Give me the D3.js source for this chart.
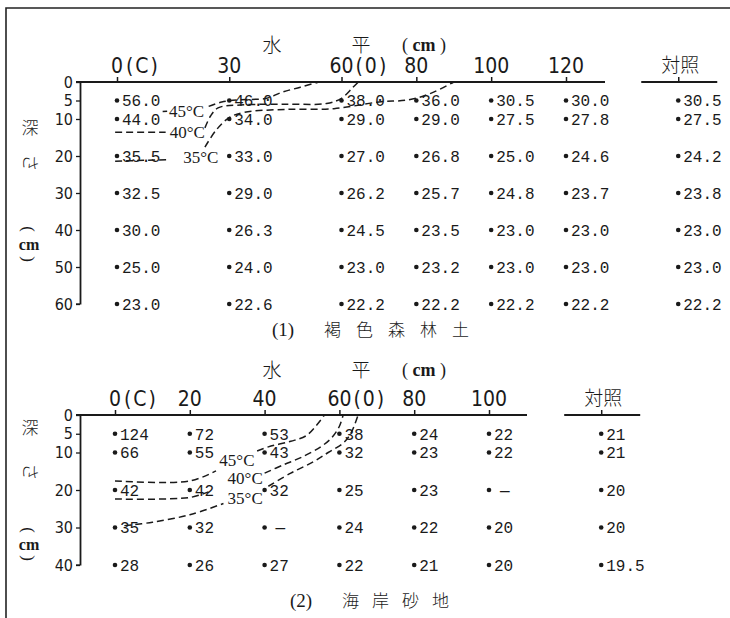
<!DOCTYPE html>
<html>
<head>
<meta charset="utf-8">
<script src="https://cdn.jsdelivr.net/npm/d3@7"></script>
<style>
body { margin: 0; background: #fff; }
svg { display: block; }
text { fill: #1a1a1a; }
</style>
</head>
<body>
<div id="chart"></div>
<script>
// Width and height
var chart_width  = 730;
var chart_height = 618;

// ---- (1) 褐色森林土 ----
var brownPos    = [0, 30, 60, 80, 100, 120];
var brownDepths = [5, 10, 20, 30, 40, 50, 60];
var brownYTicks = [0, 5, 10, 20, 30, 40, 50, 60];
var brownSuffix = {0: "(C)", 60: "(0)"};
// rows = depth, columns = brownPos, last column = 対照
var brownTemps = [
  [56.0, 46.0, 38.0, 36.0, 30.5, 30.0, 30.5],
  [44.0, 34.0, 29.0, 29.0, 27.5, 27.8, 27.5],
  [35.5, 33.0, 27.0, 26.8, 25.0, 24.6, 24.2],
  [32.5, 29.0, 26.2, 25.7, 24.8, 23.7, 23.8],
  [30.0, 26.3, 24.5, 23.5, 23.0, 23.0, 23.0],
  [25.0, 24.0, 23.0, 23.2, 23.0, 23.0, 23.0],
  [23.0, 22.6, 22.2, 22.2, 22.2, 22.2, 22.2]
];
// isotherms [horizontal cm, depth cm], split where the label sits
var brown45Pre  = [[12.2, 8.0], [13.4, 7.9]];
var brown45Post = [[24.5, 6.6], [28, 5.4], [33, 4.8], [40, 4.4], [44, 2.8], [49, 1.4], [54, 0]];
var brown40Pre  = [[-0.5, 13.6], [13, 13.6]];
var brown40Post = [[23.5, 12.4], [25, 9.2], [27, 7.0], [33, 6.2], [45, 6.0], [56, 5.8], [60, 4.4], [63, 1.5], [64.5, 0]];
var brown35Pre  = [[-0.5, 21.4], [13.5, 21.0]];
var brown35Post = [[23.5, 17.6], [26.5, 13], [30, 9.6], [34, 8.2], [45, 7.4], [58, 7.2], [70, 5.4], [78, 4.8], [84, 3], [90, 0]];
var brownIsoLabels = [["45°C", 18.6, 7.8], ["40°C", 18.8, 13.6], ["35°C", 22.4, 20.4]];

// ---- (2) 海岸砂地 ----
var sandPos    = [0, 20, 40, 60, 80, 100];
var sandDepths = [5, 10, 20, 30, 40];
var sandYTicks = [0, 5, 10, 20, 30, 40];
var sandSuffix = {0: "(C)", 60: "(0)"};
var sandTemps = [
  [124, 72, 53, 38, 24, 22, 21],
  [66, 55, 43, 32, 23, 22, 21],
  [42, 42, 32, 25, 23, null, 20],
  [35, 32, null, 24, 22, 20, 20],
  [28, 26, 27, 22, 21, 20, 19.5]
];
var sand45Pre  = [[0, 17.6], [20, 17.6], [27, 14.9]];
var sand45Post = [[38, 9.6], [41, 8.5], [47, 7.0], [51, 5.6], [54, 2.6], [56, 0]];
var sand40Pre  = [[0, 22.4], [20, 22.0], [25, 20.5]];
var sand40Post = [[40, 15.5], [45, 13.3], [50, 11.2], [55, 8.5], [58, 6], [60, 3], [61, 0]];
var sand35Pre  = [[2.5, 29.5], [10, 28.6], [20, 26.6], [29, 23.6]];
var sand35Post = [[41, 19], [47, 15.5], [53, 12.5], [57, 10], [61, 7.5], [63, 5], [65, 0]];
var sandIsoLabels = [["45°C", 32.6, 12.1], ["40°C", 34.8, 16.8], ["35°C", 34.8, 22.2]];

var numFont = "'Liberation Mono', 'DejaVu Sans Mono', monospace";
var axFont  = "'Liberation Sans Narrow', 'DejaVu Sans Condensed', 'Liberation Sans', sans-serif";
var cjkFont = "'Noto Sans CJK JP', 'Noto Sans CJK SC', sans-serif";

// Create SVG
var svg = d3.select("#chart")
  .append("svg")
  .attr("width", chart_width)
  .attr("height", chart_height);

// frame (top and left edges)
svg.append("path")
  .attr("d", "M6,618 V8 H730")
  .attr("fill", "none")
  .attr("stroke", "#222")
  .attr("stroke-width", 1.6);

function drawPanel(p) {
  var g = svg.append("g");
  var x = d3.scaleLinear().domain(p.xDomain).range(p.xRange);
  var y = d3.scaleLinear().domain(p.yDomain).range(p.yRange);
  var y0 = y(0);

  // horizontal axis line + 対照 segment
  g.append("line").attr("x1", 76).attr("x2", p.axisEnd).attr("y1", y0).attr("y2", y0)
    .attr("stroke", "#1a1a1a").attr("stroke-width", 1.8);
  g.append("line").attr("x1", x(p.ctrl) - 37).attr("x2", x(p.ctrl) + 39).attr("y1", y0).attr("y2", y0)
    .attr("stroke", "#1a1a1a").attr("stroke-width", 1.8);

  var xAxis = d3.axisTop(x)
    .tickValues(p.pos.concat([p.ctrl]))
    .tickSize(5).tickSizeOuter(0)
    .tickFormat("");
  var gx = g.append("g").attr("transform", "translate(0," + y0 + ")").call(xAxis);
  gx.select(".domain").remove();
  gx.selectAll("line").attr("stroke", "#1a1a1a").attr("stroke-width", 1.5);

  // tick labels
  g.selectAll(".xlab").data(p.pos).enter().append("text")
    .attr("x", function(d){ return x(d); })
    .attr("y", y0 - 9)
    .attr("text-anchor", "middle")
    .style("font-family", axFont).style("font-size", "21px")
    .text(function(d){ return d; });
  g.selectAll(".xsuf").data(p.pos.filter(function(d){ return p.suffix[d]; })).enter().append("text")
    .attr("x", function(d){ return x(d) + (d >= 10 ? 14 : 9); })
    .attr("y", y0 - 9)
    .style("font-family", axFont).style("font-size", "21px")
    .attr("letter-spacing", 2)
    .text(function(d){ return p.suffix[d]; });
  g.append("text").attr("x", x(p.ctrl) + 2).attr("y", y0 - 10)
    .attr("text-anchor", "middle")
    .style("font-family", cjkFont).style("font-size", "19px").style("font-weight", 300)
    .text("対照");

  // title
  g.append("text").attr("x", 272).attr("y", p.titleY).attr("text-anchor", "middle")
    .style("font-family", cjkFont).style("font-size", "19px").style("font-weight", 300).text("水");
  g.append("text").attr("x", 361).attr("y", p.titleY).attr("text-anchor", "middle")
    .style("font-family", cjkFont).style("font-size", "19px").style("font-weight", 300).text("平");
  g.append("text").attr("x", 402).attr("y", p.titleY - 1)
    .style("font-family", "'Liberation Serif', serif").style("font-size", "18px")
    .html('( <tspan font-weight="bold">cm</tspan> )');

  // vertical axis
  var yAxis = d3.axisLeft(y).tickValues(p.yTicks).tickSize(4).tickSizeOuter(0).tickPadding(3);
  var gy = g.append("g").attr("transform", "translate(80,0)").call(yAxis);
  gy.select(".domain").attr("stroke", "#1a1a1a").attr("stroke-width", 1.8);
  gy.selectAll("line").attr("stroke", "#1a1a1a").attr("stroke-width", 1.3);
  gy.selectAll("text").style("font-family", axFont).style("font-size", "16px").attr("fill", "#1a1a1a");
  gy.append("line").attr("x1", -4).attr("x2", 0).attr("y1", y(p.yDomain[1])).attr("y2", y(p.yDomain[1]))
    .attr("stroke", "#1a1a1a").attr("stroke-width", 1.3);

  // vertical label 深さ(cm)
  var lab = g.append("g").style("font-family", cjkFont).style("font-size", "17px").style("font-weight", 300);
  lab.append("text").attr("x", 30).attr("y", p.vlab[0]).attr("text-anchor", "middle").attr("dy", "0.35em").text("深");
  lab.append("text").attr("text-anchor", "middle").attr("dy", "0.35em")
    .attr("transform", "translate(30," + p.vlab[1] + ") rotate(90)").text("さ");
  lab.append("text").attr("text-anchor", "middle").attr("dy", "0.35em")
    .style("font-family", "'Liberation Serif', serif")
    .attr("transform", "translate(29," + p.vlab[2] + ") rotate(90)").text("(");
  lab.append("text").attr("x", 29).attr("y", p.vlab[3]).attr("text-anchor", "middle").attr("dy", "0.35em")
    .style("font-family", "'Liberation Serif', serif").style("font-weight", "bold").style("font-size", "16px").text("cm");
  lab.append("text").attr("text-anchor", "middle").attr("dy", "0.35em")
    .style("font-family", "'Liberation Serif', serif")
    .attr("transform", "translate(29," + p.vlab[4] + ") rotate(90)").text(")");

  // points
  var cols = p.pos.concat([p.ctrl]);
  var cells = [];
  p.temps.forEach(function(row, i){
    row.forEach(function(v, j){
      cells.push({h: cols[j], d: p.depths[i], v: v});
    });
  });
  g.selectAll(".dot").data(cells).enter().append("circle")
    .attr("cx", function(d){ return x(d.h); })
    .attr("cy", function(d){ return y(d.d); })
    .attr("r", 2.3)
    .attr("fill", "#1a1a1a");
  g.selectAll(".val").data(cells).enter().append("text")
    .attr("x", function(d){ return x(d.h) + (d.v === null ? 11 : 5); })
    .attr("y", function(d){ return y(d.d); })
    .attr("dy", "0.36em")
    .style("font-family", numFont).style("font-size", p.valSize)
    .text(function(d){ return d.v === null ? "—" : p.fmt(d.v); });

  // isotherms
  var line = d3.line()
    .x(function(d){ return x(d[0]); })
    .y(function(d){ return y(d[1]); })
    .curve(d3.curveCatmullRom.alpha(0.5));
  g.selectAll(".iso").data(p.iso).enter().append("path")
    .attr("d", line)
    .attr("fill", "none")
    .attr("stroke", "#1a1a1a")
    .attr("stroke-width", 1.5)
    .attr("stroke-dasharray", "7,4");
  g.selectAll(".isolab").data(p.isoLabels).enter().append("text")
    .attr("x", function(d){ return x(d[1]); })
    .attr("y", function(d){ return y(d[2]); })
    .attr("dy", "0.35em")
    .attr("text-anchor", "middle")
    .style("font-family", "'Liberation Serif', serif").style("font-size", "17px")
    .text(function(d){ return d[0]; });

  // caption
  g.append("text").attr("x", p.capX).attr("y", p.capY)
    .style("font-family", "'Liberation Serif', serif").style("font-size", "19px").text(p.capNum);
  g.append("text").attr("x", p.capX + 52).attr("y", p.capY)
    .attr("letter-spacing", p.capSpace)
    .style("font-family", cjkFont).style("font-size", "17px").style("font-weight", 300)
    .text(p.capText);
}

drawPanel({
  xDomain: [0, 120], xRange: [117, 566],
  yDomain: [0, 60], yRange: [82, 304],
  pos: brownPos, ctrl: 150, depths: brownDepths, temps: brownTemps,
  yTicks: brownYTicks, suffix: brownSuffix,
  axisEnd: 605, titleY: 52,
  vlab: [128, 163, 229, 244, 259],
  fmt: d3.format(".1f"), valSize: "16px",
  iso: [brown45Pre, brown45Post, brown40Pre, brown40Post, brown35Pre, brown35Post],
  isoLabels: brownIsoLabels,
  capX: 272, capY: 336, capNum: "(1)", capText: "褐色森林土", capSpace: 15
});

drawPanel({
  xDomain: [0, 100], xRange: [115, 489],
  yDomain: [0, 40], yRange: [415, 565],
  pos: sandPos, ctrl: 130, depths: sandDepths, temps: sandTemps,
  yTicks: sandYTicks, suffix: sandSuffix,
  axisEnd: 527, titleY: 377,
  vlab: [428, 472, 530, 544, 558],
  fmt: function(v){ return String(v); }, valSize: "16px",
  iso: [sand45Pre, sand45Post, sand40Pre, sand40Post, sand35Pre, sand35Post],
  isoLabels: sandIsoLabels,
  capX: 290, capY: 607, capNum: "(2)", capText: "海岸砂地", capSpace: 13
});
</script>
</body>
</html>
